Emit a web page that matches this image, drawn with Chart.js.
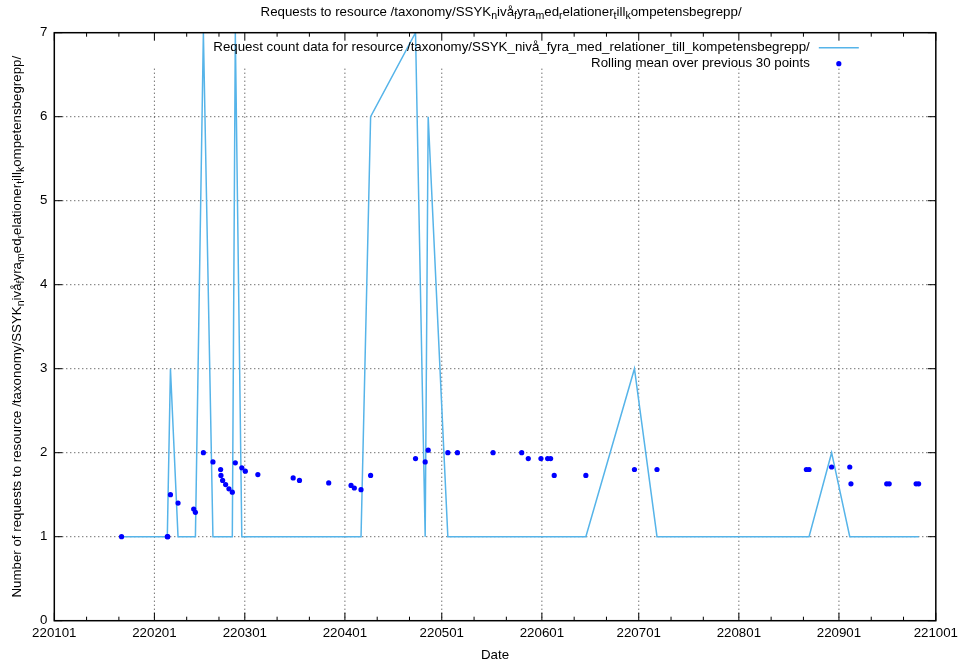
<!DOCTYPE html>
<html>
<head>
<meta charset="utf-8">
<script src="https://cdn.jsdelivr.net/npm/chart.js@4/dist/chart.umd.min.js"></script>
<style>
  html, body { margin: 0; padding: 0; background: #fff; }
  canvas { display: block; }
</style>
</head>
<body>
<canvas id="requestChart" width="963" height="666"></canvas>
<script>
// days since 2022-01-01 for every sample
const sampleDays = [
    20.83, 35.00, 35.14, 35.97, 38.32, 43.17, 43.70, 46.17, 49.13, 51.51,
    51.61, 52.13, 53.06, 54.08, 55.13, 56.06, 58.07, 59.15, 63.04, 73.98,
    75.93, 84.98, 91.90, 92.92, 94.99, 97.96, 111.87, 114.86, 115.79, 121.88,
    124.85, 135.88, 144.75, 146.79, 150.71, 152.78, 153.71, 154.82, 164.62, 179.67,
    186.65, 232.91, 233.74, 240.73, 246.35, 246.72, 257.79, 258.56, 266.90, 267.68
];
const requestCounts = [
    1, 1, 1, 3, 1, 1, 1, 7, 1, 1,
    1, 1, 1, 1, 1, 7, 1, 1, 1, 1,
    1, 1, 1, 1, 1, 6, 7, 1, 6, 1,
    1, 1, 1, 1, 1, 1, 1, 1, 1, 3,
    1, 1, 1, 2, 1, 1, 1, 1, 1, 1
];
const rollingMeans = [
    1.00, 1.00, 1.00, 1.50, 1.40, 1.33, 1.29, 2.00, 1.89, 1.80,
    1.73, 1.67, 1.62, 1.57, 1.53, 1.88, 1.82, 1.78, 1.74, 1.70,
    1.67, 1.64, 1.61, 1.58, 1.56, 1.73, 1.93, 1.89, 2.03, 2.00,
    2.00, 2.00, 2.00, 1.93, 1.93, 1.93, 1.93, 1.73, 1.73, 1.80,
    1.80, 1.80, 1.80, 1.83, 1.83, 1.63, 1.63, 1.63, 1.63, 1.63
];
const monthStartDays = [0, 31, 59, 90, 120, 151, 181, 212, 243, 273];
const monthLabels = ['220101', '220201', '220301', '220401', '220501', '220601', '220701', '220801', '220901', '221001'];
const yTicks = [0, 1, 2, 3, 4, 5, 6, 7];

const resource = '/taxonomy/SSYK_nivå_fyra_med_relationer_till_kompetensbegrepp/';
const titleText = 'Requests to resource ' + resource;
const yTitleText = 'Number of requests to resource ' + resource;
const countLabel = 'Request count data for resource ' + resource;
const meanLabel = 'Rolling mean over previous 30 points';

const FAMILY = "'Liberation Sans', Arial, sans-serif";
const FONT = '13.3px ' + FAMILY;
const SUB_FONT = '10.6px ' + FAMILY;
const LINE_COLOR = '#56b4e9';
const DOT_COLOR = '#0000ff';

// gnuplot enhanced text: "_x" drops the next character into a subscript
function splitEnhanced(str) {
    const parts = [];
    let buf = '';
    for (let i = 0; i < str.length; i++) {
        if (str[i] === '_' && i + 1 < str.length) {
            if (buf) parts.push({ text: buf, sub: false });
            parts.push({ text: str[i + 1], sub: true });
            buf = '';
            i++;
        } else {
            buf += str[i];
        }
    }
    if (buf) parts.push({ text: buf, sub: false });
    return parts;
}

function drawEnhanced(ctx, str, x, y) {
    const parts = splitEnhanced(str);
    const widths = parts.map(p => {
        ctx.font = p.sub ? SUB_FONT : FONT;
        return ctx.measureText(p.text).width;
    });
    const total = widths.reduce((a, b) => a + b, 0);
    let cx = x - total / 2;
    ctx.textAlign = 'left';
    ctx.textBaseline = 'alphabetic';
    parts.forEach((p, i) => {
        ctx.font = p.sub ? SUB_FONT : FONT;
        ctx.fillText(p.text, cx, p.sub ? y + 3 : y);
        cx += widths[i];
    });
}

const gnuplotFrame = {
    id: 'gnuplotFrame',
    beforeDatasetsDraw(chart) {
        const { ctx, chartArea: a, scales: { x, y } } = chart;
        ctx.save();
        ctx.strokeStyle = '#333';
        ctx.lineWidth = 1;
        ctx.setLineDash([1, 3]);
        yTicks.slice(1, -1).forEach(v => {
            const py = y.getPixelForValue(v);
            ctx.beginPath();
            ctx.moveTo(a.left, py);
            ctx.lineTo(a.right, py);
            ctx.stroke();
        });
        // vertical grid stops below the key
        monthStartDays.slice(1, -1).forEach(d => {
            const px = x.getPixelForValue(d);
            ctx.beginPath();
            ctx.moveTo(px, a.top + 36);
            ctx.lineTo(px, a.bottom);
            ctx.stroke();
        });
        ctx.restore();
    },
    afterDraw(chart) {
        const { ctx, chartArea: a, scales: { x, y } } = chart;
        ctx.save();

        // border and inward tics, mirrored on all sides
        ctx.strokeStyle = '#000';
        ctx.lineWidth = 1.5;
        ctx.strokeRect(a.left, a.top, a.right - a.left, a.bottom - a.top);
        ctx.lineWidth = 1;
        ctx.beginPath();
        monthStartDays.forEach((d, i) => {
            const px = x.getPixelForValue(d);
            ctx.moveTo(px, a.bottom); ctx.lineTo(px, a.bottom - 8);
            ctx.moveTo(px, a.top); ctx.lineTo(px, a.top + 8);
            if (i < monthStartDays.length - 1) {
                [10, 20].forEach(off => {
                    const mx = x.getPixelForValue(d + off);
                    ctx.moveTo(mx, a.bottom); ctx.lineTo(mx, a.bottom - 4);
                    ctx.moveTo(mx, a.top); ctx.lineTo(mx, a.top + 4);
                });
            }
        });
        yTicks.forEach(v => {
            const py = y.getPixelForValue(v);
            ctx.moveTo(a.left, py); ctx.lineTo(a.left + 8, py);
            ctx.moveTo(a.right, py); ctx.lineTo(a.right - 8, py);
        });
        ctx.stroke();

        ctx.fillStyle = '#000';
        const midX = (a.left + a.right) / 2;
        drawEnhanced(ctx, titleText, midX + 6, 16);

        ctx.font = FONT;
        ctx.textAlign = 'center';
        ctx.textBaseline = 'alphabetic';
        ctx.fillText('Date', midX, 659);

        ctx.save();
        ctx.translate(21, (a.top + a.bottom) / 2);
        ctx.rotate(-Math.PI / 2);
        drawEnhanced(ctx, yTitleText, 0, 0);
        ctx.restore();

        // key
        const keyX = a.right - 126;
        ctx.font = FONT;
        ctx.textAlign = 'right';
        ctx.textBaseline = 'middle';
        ctx.fillText(countLabel, keyX, a.top + 15);
        ctx.fillText(meanLabel, keyX, a.top + 31);
        ctx.strokeStyle = LINE_COLOR;
        ctx.lineWidth = 1.5;
        ctx.beginPath();
        ctx.moveTo(keyX + 9, a.top + 15);
        ctx.lineTo(keyX + 49, a.top + 15);
        ctx.stroke();
        ctx.fillStyle = DOT_COLOR;
        ctx.beginPath();
        ctx.arc(keyX + 29, a.top + 31, 2.6, 0, Math.PI * 2);
        ctx.fill();

        ctx.restore();
    }
};

const ctx = document.getElementById('requestChart').getContext('2d');
const chart = new Chart(ctx, {
    type: 'scatter',
    data: {
        datasets: [{
            label: meanLabel,
            data: sampleDays.map((d, i) => ({ x: d, y: rollingMeans[i] })),
            showLine: false,
            pointRadius: 2.6,
            pointBorderWidth: 0,
            pointBackgroundColor: DOT_COLOR,
            pointBorderColor: DOT_COLOR,
            order: 0
        }, {
            label: countLabel,
            data: sampleDays.map((d, i) => ({ x: d, y: requestCounts[i] })),
            showLine: true,
            borderColor: LINE_COLOR,
            borderWidth: 1.5,
            pointRadius: 0,
            tension: 0,
            order: 1
        }]
    },
    options: {
        responsive: false,
        animation: false,
        devicePixelRatio: 1,
        layout: { padding: { left: 0, right: 25.3, top: 32.7, bottom: 0 } },
        plugins: {
            legend: { display: false },
            title: { display: false },
            tooltip: { enabled: false }
        },
        scales: {
            x: {
                type: 'linear',
                min: 0,
                max: 273,
                afterBuildTicks: s => { s.ticks = monthStartDays.map(v => ({ value: v })); },
                afterFit: s => { s.height = 45.3; },
                grid: { display: false, drawTicks: false },
                border: { display: false },
                ticks: {
                    autoSkip: false,
                    maxRotation: 0,
                    padding: 5,
                    color: '#000',
                    font: { family: FAMILY, size: 13.3 },
                    callback: (v, i) => monthLabels[i]
                }
            },
            y: {
                min: 0,
                max: 7,
                afterFit: s => { s.width = 54.3; },
                grid: { display: false, drawTicks: false },
                border: { display: false },
                ticks: {
                    stepSize: 1,
                    padding: 7,
                    color: '#000',
                    font: { family: FAMILY, size: 13.3 }
                }
            }
        }
    },
    plugins: [gnuplotFrame]
});
</script>
</body>
</html>
